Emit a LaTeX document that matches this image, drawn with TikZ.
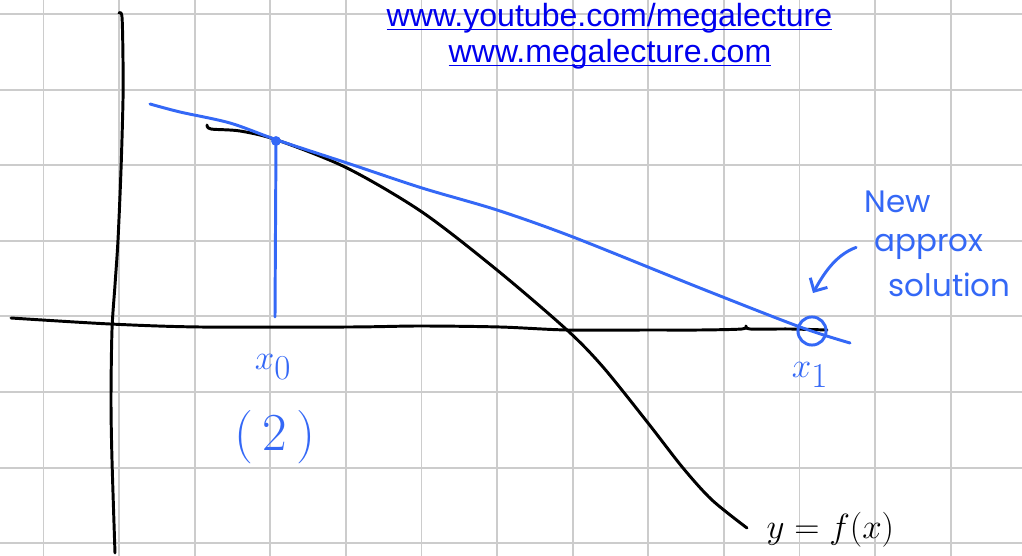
\documentclass[tikz,border=0pt]{standalone}
\usepackage{fontspec}
\newfontfamily\urlfont{Liberation Sans}
\newfontfamily\notefont{Poppins}
\usetikzlibrary{arrows.meta}
\definecolor{penblue}{RGB}{52,104,246}
\definecolor{linkblue}{RGB}{0,0,238}

\begin{document}
\begin{tikzpicture}[x=0.025cm, y=-0.025cm,
    gridline/.style={gray!40, line width=1.4pt},
    pen/.style={line width=2.1pt, line cap=round, line join=round},
    link/.style={text=linkblue, font=\urlfont\fontsize{22.8}{25}\selectfont, anchor=base},
    hand/.style={text=penblue, font=\fontsize{38}{42}\selectfont},
    note/.style={text=penblue, font=\notefont\fontsize{22}{24}\selectfont, anchor=base west, inner sep=1pt}]
    \useasboundingbox (0,0) rectangle (1022,556);

    % Draw the background grid
    \foreach \i in {0,...,12}
        {
            \draw[gridline] ({43.5+75.6*\i},0) -- ({43.5+75.6*\i},556);
        }
    \foreach \j in {0,...,7}
        {
            \draw[gridline] (0,{14+75.6*\j}) -- (1022,{14+75.6*\j});
        }

    % Links at the top
    \node[link] (youtube) at (609.5,27) {\underline{\smash{www.youtube.com/megalecture}}};
    \node[link] (site) at (610,63) {\underline{\smash{www.megalecture.com}}};

    % Draw the axes
    \draw[pen] plot[smooth] coordinates {(119,13) (122,17) (123,60) (123,100) (121,170) (118,240) (115,285) (112,330) (111,400) (112,460) (115,553)};
    \draw[pen] plot[smooth] coordinates {(11,318) (110,324) (200,327) (350,327) (420,326) (500,327) (567,330) (650,330) (700,330) (742,329) (746,326) (750,329) (790,329) (827,330)};

    % Draw the curve y = f(x)
    \draw[pen] plot[smooth] coordinates {(207,125) (211,129) (240,131) (277,140) (347,168) (422,212) (497,270) (567,330) (603,367) (648,423) (683,468) (712,500) (747,528)};
    \node[font=\fontsize{31}{34}\selectfont, anchor=west, inner sep=1pt] (curve) at (765,530) {$y=f(x)$};

    % Draw the tangent at x0 and the drop to the axis
    \draw[pen, penblue] plot[smooth] coordinates {(150,104) (180,112) (230,123) (277,140) (347,163) (422,188) (497,210) (573,237) (700,288) (800,327) (850,343)};
    \node[circle, fill=penblue, inner sep=0pt, minimum size=7pt] (touch) at (276,141) {};
    \coordinate (foot) at (275,317);
    \draw[pen, penblue] (touch.center) -- (foot);

    % Mark the new root x1
    \node[circle, draw=penblue, line width=2.1pt, inner sep=0pt, minimum size=20pt] (root) at (812,331) {};

    \node[hand] (xzero) at (273,367) {$x_0$};
    \node[hand] (start) at (275,437) {(\,2\,)};
    \node[hand] (xone) at (810,375) {$x_1$};

    % Note pointing at x1
    \node[note] (new) at (863,213) {New};
    \node[note] (approx) at (873,252) {approx};
    \node[note] (soln) at (887,297) {solution};
    \coordinate (tip) at (813,293);
    \draw[pen, penblue, -{Straight Barb[length=7pt, width=14pt]}] ([xshift=-12pt]approx.west) .. controls +(-22,8) and +(9,-16) .. (tip);

\end{tikzpicture}
\end{document}
